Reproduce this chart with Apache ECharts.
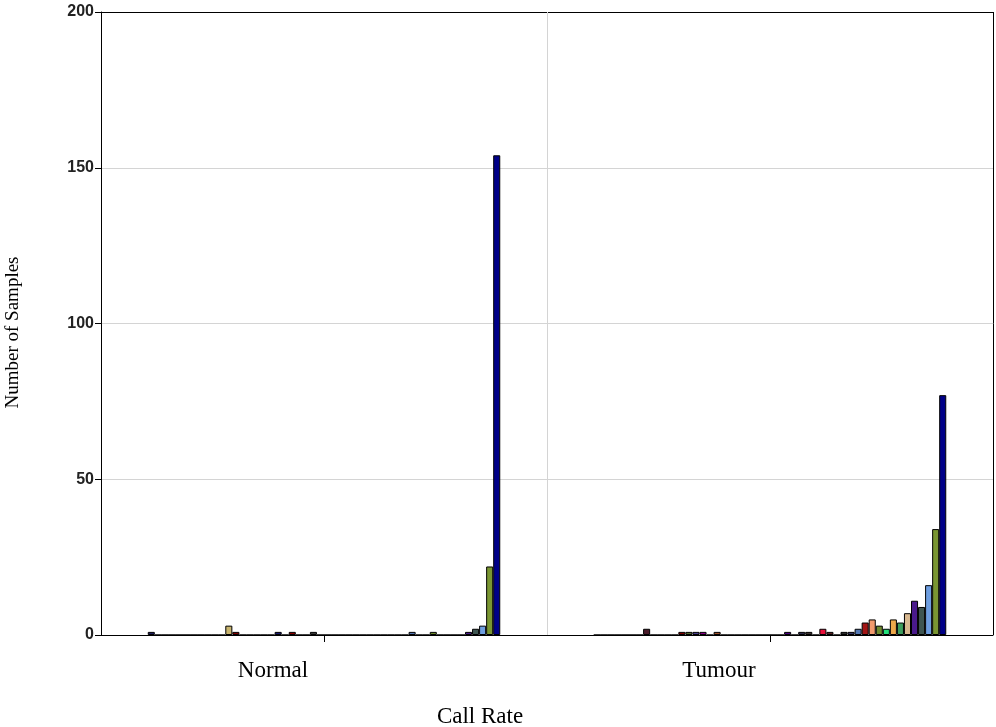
<!DOCTYPE html>
<html>
<head>
<meta charset="utf-8">
<title>Call Rate</title>
<script src="https://cdn.jsdelivr.net/npm/echarts@6/dist/echarts.min.js"></script>
<style>
  html, body { margin: 0; padding: 0; background: #ffffff; }
  #chart { width: 996px; height: 727px; }
</style>
</head>
<body>
<div id="chart"></div>
<script>
// Sample groups on the category axis
const groups = ['Normal', 'Tumour'];

// Number of samples per call-rate bin (50 bins, lowest to highest)
const normalCounts = [
  1, 0, 0, 0, 0, 0, 0, 0, 0, 0,
  0, 3, 1, 0, 0, 0, 0, 0, 1, 0,
  1, 0, 0, 1, 0, 0, 0, 0, 0, 0,
  0, 0, 0, 0, 0, 0, 0, 1, 0, 0,
  1, 0, 0, 0, 0, 1, 2, 3, 22, 154
];
const tumourCounts = [
  0, 0, 0, 0, 0, 0, 0, 2, 0, 0,
  0, 0, 1, 1, 1, 1, 0, 1, 0, 0,
  0, 0, 0, 0, 0, 0, 0, 1, 0, 1,
  1, 0, 2, 1, 0, 1, 1, 2, 4, 5,
  3, 2, 5, 4, 7, 11, 9, 16, 34, 77
];

// Y axis ticks
const yTicks = [0, 50, 100, 150, 200];

// One fill colour per call-rate bin
const binColors = [
  '#1F1F5F', '#8B4513', '#2E8B57', '#B22222', '#4682B4', '#DAA520', '#6A5ACD', '#4B1C2A', '#20B2AA', '#CD853F',
  '#708090', '#C8B46E', '#800000', '#556B2F', '#483D8B', '#8B008B', '#2F4F4F', '#A0522D', '#191970', '#006400',
  '#8B0000', '#5F9EA0', '#9932CC', '#3A3A3A', '#BDB76B', '#008B8B', '#B8860B', '#4B0082', '#696969', '#2F2F4F',
  '#3B2F2F', '#6B4226', '#E8103A', '#5A2020', '#7B68EE', '#2B2B2B', '#333366', '#5478B4', '#A31515', '#F29A6E',
  '#6E8B2E', '#22E07A', '#EEA84A', '#3E9E5E', '#D8B890', '#4A1A8C', '#3F5652', '#6E9EE0', '#7A9632', '#000088'
];

const gridGrey = '#d4d4d4';
const frameBlack = '#000000';

const chart = echarts.init(document.getElementById('chart'), null, { renderer: 'canvas' });

const series = normalCounts.map((n, i) => ({
  name: 'Call rate ' + (0.50 + i * 0.01).toFixed(2),
  type: 'bar',
  barWidth: 7.05,
  barGap: '0%',
  data: [n, tumourCounts[i]],
  itemStyle: {
    color: binColors[i],
    borderColor: '#000000',
    borderWidth: 1
  },
  emphasis: { disabled: true }
}));

const option = {
  backgroundColor: '#ffffff',
  animation: false,
  grid: {
    left: 101, right: 3, top: 12, bottom: 92,
    outerBoundsMode: 'none',
    containLabel: false,
    show: false
  },
  xAxis: {
    type: 'category',
    data: groups,
    name: 'Call Rate',
    nameLocation: 'middle',
    nameGap: 70,
    nameTextStyle: {
      fontFamily: 'Liberation Serif',
      fontSize: 23,
      color: '#000000',
      padding: [0, 134, 0, 0]
    },
    axisLine: { lineStyle: { color: frameBlack, width: 1 } },
    axisTick: { show: true, alignWithLabel: true, length: 7, lineStyle: { color: frameBlack } },
    axisLabel: {
      margin: 24,
      fontFamily: 'Liberation Serif',
      fontSize: 23,
      color: '#000000',
      padding: [0, 102, 0, 0]
    },
    // left edge, divider between groups, right frame edge
    splitLine: { show: true, lineStyle: { color: [frameBlack, gridGrey, frameBlack], width: 1 } }
  },
  yAxis: {
    type: 'value',
    min: yTicks[0],
    max: yTicks[yTicks.length - 1],
    interval: 50,
    name: 'Number of Samples',
    nameLocation: 'middle',
    nameGap: 78,
    nameRotate: 90,
    nameTextStyle: {
      fontFamily: 'Liberation Serif',
      fontSize: 19,
      color: '#000000',
      padding: [0, 18, 0, 0]
    },
    axisLine: { show: true, lineStyle: { color: frameBlack, width: 1 } },
    axisTick: { show: true, length: 6, lineStyle: { color: frameBlack } },
    axisLabel: {
      margin: 7,
      fontFamily: 'Liberation Sans',
      fontWeight: 'bold',
      fontSize: 16,
      color: '#222222'
    },
    // grey gridlines, black top frame edge
    splitLine: { show: true, lineStyle: { color: [frameBlack, gridGrey, gridGrey, gridGrey, frameBlack], width: 1 } }
  },
  series: series
};

chart.setOption(option);
</script>
</body>
</html>
